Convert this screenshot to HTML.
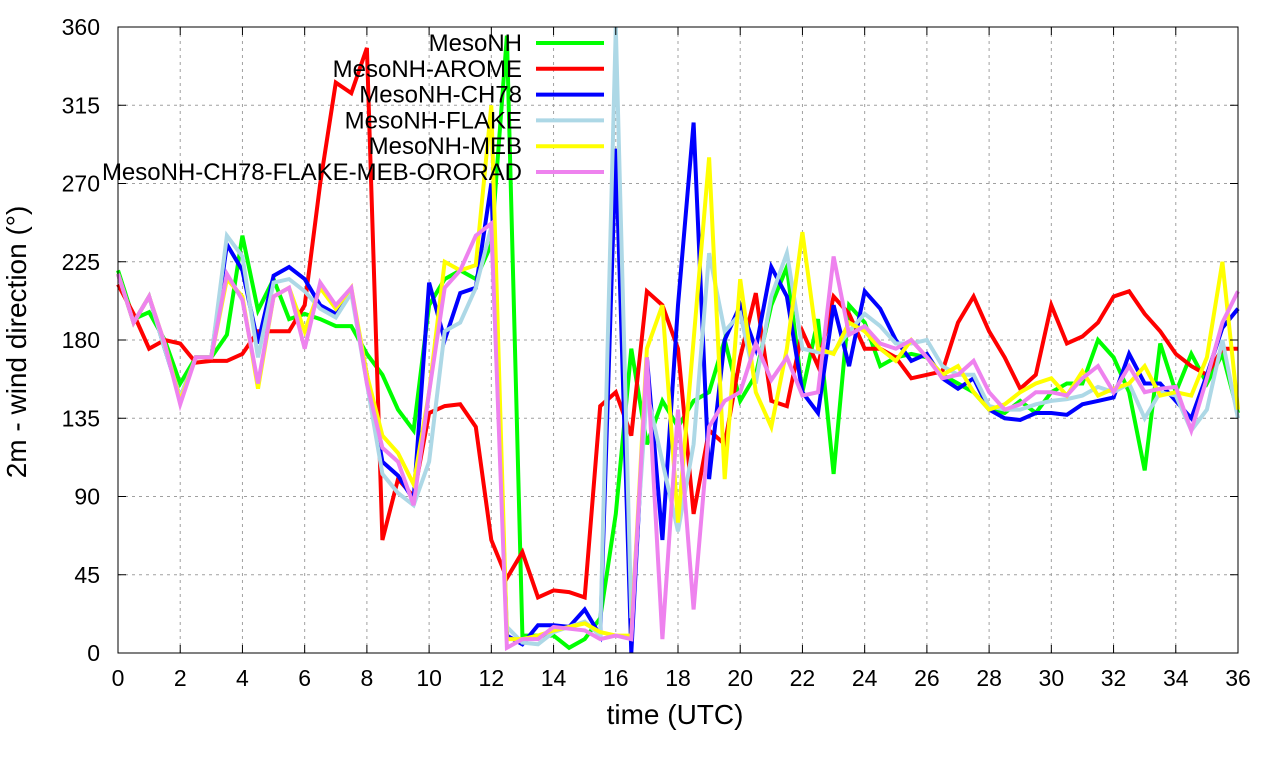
<!DOCTYPE html>
<html><head><meta charset="utf-8"><style>
body{margin:0;background:#fff;}
svg{display:block;font-family:"Liberation Sans",sans-serif;}
</style></head><body>
<svg id="chart" width="1280" height="760" xmlns="http://www.w3.org/2000/svg">
<g id="grid"></g>
<g id="series"></g>
<rect x="118" y="27" width="1120" height="626" fill="none" stroke="#000" stroke-width="1"/>
<g id="ticks"></g>
<text x="675" y="724" font-size="28" text-anchor="middle">time (UTC)</text>
<text transform="translate(26,342) rotate(-90)" font-size="28" text-anchor="middle">2m - wind direction (°)</text>
<g id="legend"></g>
</svg>
<script>
const xTicks=[0,2,4,6,8,10,12,14,16,18,20,22,24,26,28,30,32,34,36];
const yTicks=[0,45,90,135,180,225,270,315,360];
const seriesNames=["MesoNH","MesoNH-AROME","MesoNH-CH78","MesoNH-FLAKE","MesoNH-MEB","MesoNH-CH78-FLAKE-MEB-ORORAD"];
const seriesColors=["#00ff00","#ff0000","#0000ff","#add8e6","#ffff00","#ee82ee"];
const mesonh=[220,192,196,180,155,170,170,183,240,197,215,192,195,192,188,188,172,160,140,128,200,215,220,215,235,355,10,10,10,3,8,20,80,175,120,145,130,145,150,180,145,160,200,222,150,192,103,200,190,165,170,172,170,160,155,150,140,138,145,138,150,155,155,180,170,150,105,178,150,172,155,172,138];
const arome=[212,195,175,180,178,167,168,168,172,185,185,185,200,270,328,322,348,65,100,90,138,142,143,130,65,43,58,32,36,35,32,142,150,125,208,200,175,80,128,120,170,207,145,142,185,165,205,195,175,175,170,158,160,162,190,205,185,170,152,160,200,178,182,190,205,208,195,185,172,165,160,175,175];
const ch78=[218,190,205,175,147,170,170,235,220,178,217,222,215,200,195,208,160,110,102,88,213,180,207,210,270,10,5,16,16,15,25,10,290,0,170,65,200,305,100,180,200,175,222,205,150,138,200,165,208,198,180,168,172,158,152,158,140,135,134,138,138,137,143,145,147,172,155,155,145,135,160,187,198];
const flake=[218,190,205,175,147,170,170,240,228,170,213,215,208,198,193,207,155,103,92,85,110,185,190,210,245,15,6,5,12,15,18,10,360,20,150,110,70,120,230,185,195,155,205,230,175,173,173,185,195,188,178,178,180,165,160,160,142,140,140,143,145,146,148,153,150,155,135,150,148,128,140,180,135];
const meb=[218,190,205,178,145,170,170,215,205,152,205,210,185,210,198,210,160,125,115,97,150,225,220,223,315,8,8,10,13,15,17,12,10,10,175,200,75,180,285,100,215,150,130,175,242,175,172,190,185,175,168,180,170,160,165,150,140,143,150,155,158,148,162,148,152,155,165,148,150,148,170,225,140];
const ororad=[218,190,205,178,143,170,170,218,203,155,205,210,175,213,200,210,155,118,110,85,150,210,220,240,247,3,8,8,15,14,13,8,10,8,170,8,140,25,130,145,150,178,157,170,148,150,228,183,188,178,175,180,170,158,160,168,150,140,143,150,150,148,158,165,150,165,150,152,153,128,158,190,208];
const allSeries=[mesonh,arome,ch78,flake,meb,ororad];

const NS="http://www.w3.org/2000/svg";
const X0=118,X1=1238,Y0=653,Y1=27;
function xs(t){return X0+(t/36)*(X1-X0);}
function ys(v){return Y0-(v/360)*(Y0-Y1);}
function mk(tag,attrs,parent){const e=document.createElementNS(NS,tag);for(const k in attrs)e.setAttribute(k,attrs[k]);parent.appendChild(e);return e;}
const grid=document.getElementById('grid'),ticks=document.getElementById('ticks');
xTicks.forEach(t=>{
  const x=xs(t);
  if(t>0&&t<36){const g=mk('line',{x1:x,x2:x,y1:Y1,y2:Y0,stroke:'#a0a0a0','stroke-dasharray':'3,4','stroke-width':1},grid);
  
  }
  const tk=mk('line',{x1:x,x2:x,y1:Y0,y2:Y0-8,stroke:'#000'},ticks);
  
  
  const tk2=mk('line',{x1:x,x2:x,y1:Y1,y2:Y1+8,stroke:'#000'},ticks);
  
  
  const l=mk('text',{x:x,y:686,'font-size':23,'text-anchor':'middle'},ticks);l.textContent=t;
  
  
});
yTicks.forEach(v=>{
  const y=ys(v);
  if(v>0&&v<360){const g=mk('line',{x1:X0,x2:X1,y1:y,y2:y,stroke:'#a0a0a0','stroke-dasharray':'3,4','stroke-width':1},grid);
  
  }
  const tk=mk('line',{x1:X0,x2:X0+8,y1:y,y2:y,stroke:'#000'},ticks);
  
  
  const tk2=mk('line',{x1:X1,x2:X1-8,y1:y,y2:y,stroke:'#000'},ticks);
  
  
  const l=mk('text',{x:100,y:y+8,'font-size':23,'text-anchor':'end'},ticks);l.textContent=v;
  
  
});
const sg=document.getElementById('series');
allSeries.forEach((arr,i)=>{
  const pts=arr.map((v,j)=>xs(j*0.5).toFixed(1)+','+ys(v).toFixed(1)).join(' ');
  const p=mk('polyline',{points:pts,fill:'none',stroke:seriesColors[i],'stroke-width':4,'stroke-linejoin':'miter'},sg);
  
  
});
const lg=document.getElementById('legend');
seriesNames.forEach((n,i)=>{
  const y=43+i*25.8;
  const t=mk('text',{x:522,y:y+8,'font-size':24,'text-anchor':'end'},lg);t.textContent=n;
  
  
  const l=mk('line',{x1:536,x2:604,y1:y,y2:y,stroke:seriesColors[i],'stroke-width':4},lg);
  
  
});
</script>
</body></html>
